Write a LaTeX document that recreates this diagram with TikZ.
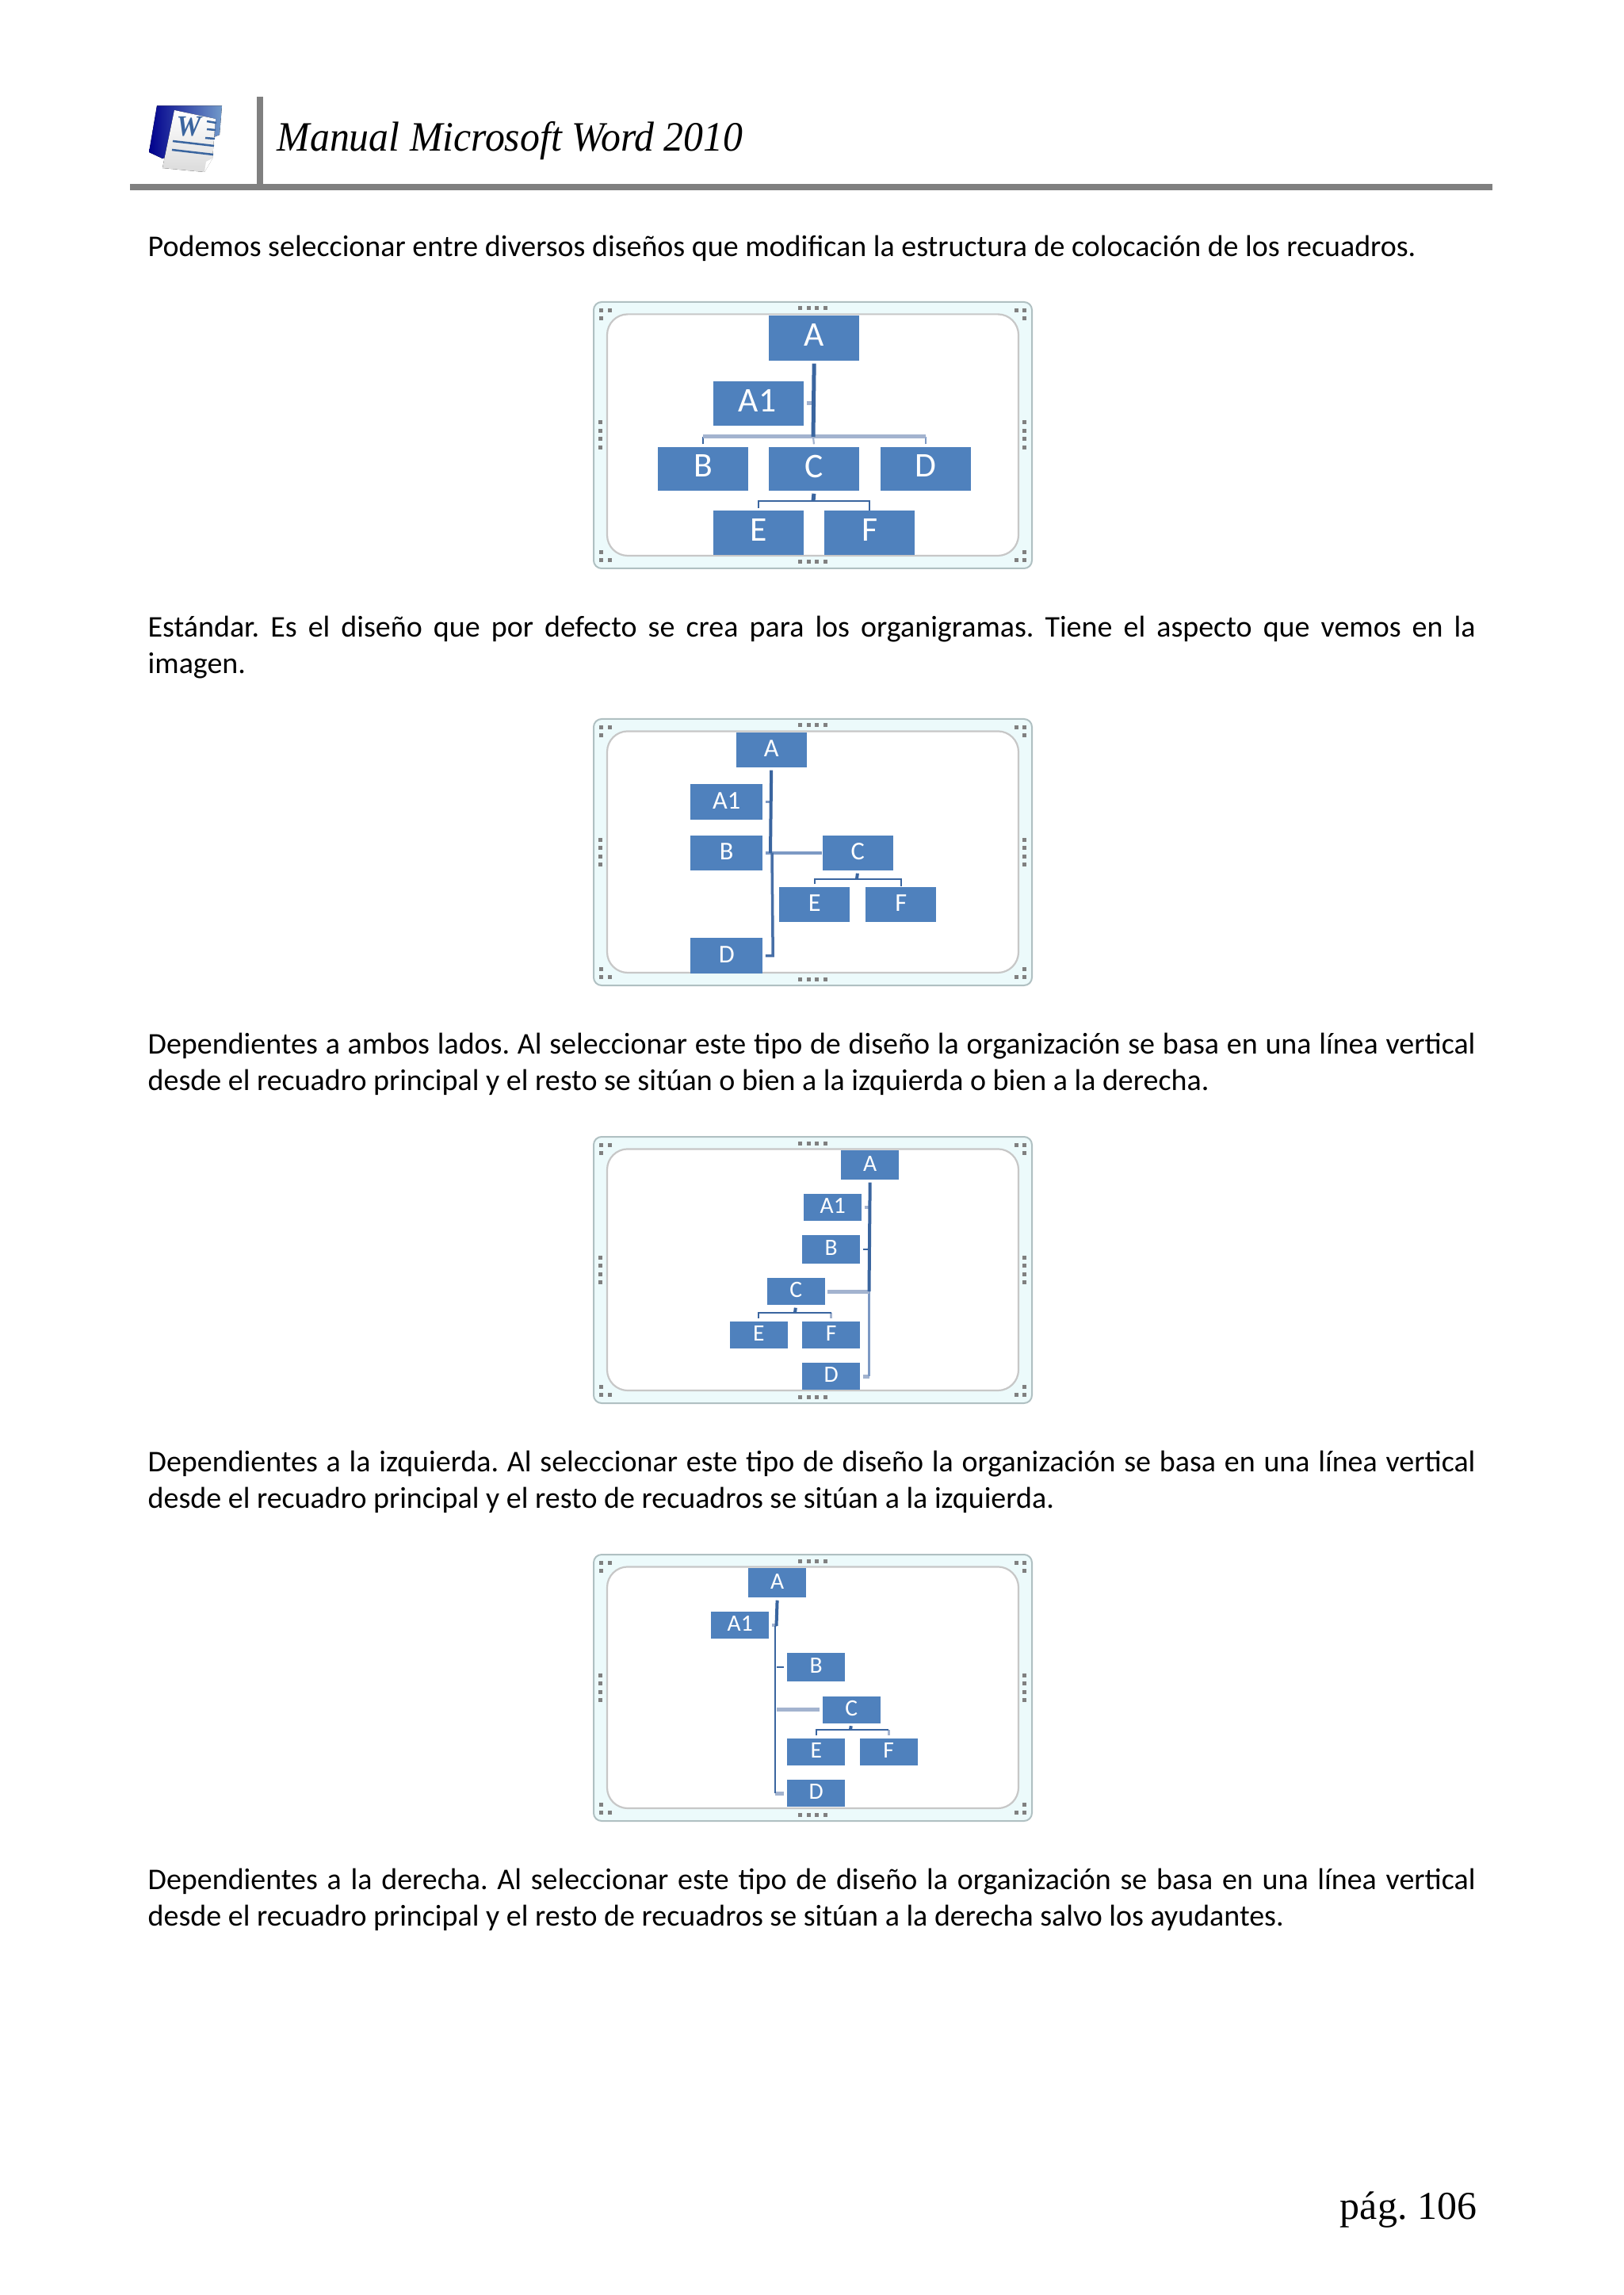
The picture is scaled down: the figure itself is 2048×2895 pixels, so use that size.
\documentclass[tikz,border=0pt]{standalone}
\usepackage{fontspec}
\setmainfont{Carlito}
\newfontfamily\headfont[FakeStretch=.944]{Liberation Serif}
\newfontfamily\pagefont[WordSpace=.7]{Liberation Serif}
\usepackage{xcolor}
\definecolor{OrgBlue}{HTML}{4F81BD}
\definecolor{OrgDark}{HTML}{3A659F}
\definecolor{OrgMid}{HTML}{7D99C4}
\definecolor{OrgPale}{HTML}{A3B3CF}
\definecolor{FrameBand}{HTML}{ECFAFB}
\definecolor{FrameEdge}{HTML}{B0C0C2}
\definecolor{HeadGray}{HTML}{808080}
\usetikzlibrary{positioning,calc}
\newcommand{\orgframe}[1]{%
  \begin{scope}[shift={(749,#1)}]
    \draw[FrameEdge,line width=.2mm,fill=FrameBand,rounded corners=1mm] (0,0) rectangle (553,336);
    \draw[black!22,line width=.22mm,fill=white,rounded corners=2.6mm] (17,15.4) rectangle (536,320);
    \foreach \x in {260.5,271,281,292} {
      \fill[dotc] (\x-2.5,5.5) rectangle ++(5,5);
      \fill[dotc] (\x-2.5,325.5) rectangle ++(5,5);
    }
    \foreach \y in {152,162.5,173,183.5} {
      \fill[dotc] (6,\y-2.5) rectangle ++(5,5);
      \fill[dotc] (541,\y-2.5) rectangle ++(5,5);
    }
    \foreach \x/\y in {9.5/10.7,20/10.7,9.5/20.8} {
      \fill[dotc] (\x-2.5,\y-2.5) rectangle ++(5,5);
      \fill[dotc] (553-\x-2.5,\y-2.5) rectangle ++(5,5);
      \fill[dotc] (\x-2.5,336-\y-2.5) rectangle ++(5,5);
      \fill[dotc] (553-\x-2.5,336-\y-2.5) rectangle ++(5,5);
    }
  \end{scope}}

\begin{document}
\begin{tikzpicture}[
  x=0.01cm,y=-0.01cm,
  dotc/.style={fill=black!50},
  para/.style={anchor=north west,inner sep=0pt,text width=16.74cm,align=justify,font=\fontsize{10.8}{13.1}\selectfont\frenchspacing},
  orgbox/.style={fill=OrgBlue,text=white,inner sep=0pt,text depth=1pt,xshift=.12mm},
  bigbox/.style={orgbox,text depth=2pt,minimum width=1.14cm,minimum height=.55cm,font=\fontsize{12.4}{12.4}\selectfont},
  midbox/.style={orgbox,minimum width=.89cm,minimum height=.44cm,font=\fontsize{9.2}{9.2}\selectfont},
  smallbox/.style={orgbox,minimum width=.73cm,minimum height=.34cm,font=\fontsize{8.4}{8.4}\selectfont},
  heavy/.style={OrgDark,line width=.5mm},
  trunk/.style={OrgDark,line width=.4mm},
  fine/.style={OrgDark,line width=.22mm},
  midl/.style={OrgMid,line width=.35mm},
  pale/.style={OrgPale,line width=.5mm},
  gapl/.style={shorten <=.3mm}
]
  \useasboundingbox (0,0) rectangle (2048,2895);
  % header
  \fill[HeadGray] (164,232) rectangle (1883,240);
  \fill[HeadGray] (324,122) rectangle (332,232);
  \node[anchor=base west,inner sep=0pt,font=\headfont\itshape\fontsize{15}{15}\selectfont] (title) at (349,191) {Manual Microsoft Word 2010};
  % word icon
  \fill[left color=blue!55!black,right color=OrgBlue!80!white] (198,133.5) -- (280,133.5) -- (277,170) -- (205,200) -- (188,192) -- cycle;
  \fill[top color=white,bottom color=black!14] (220,139) -- (272,150) -- (268,200) -- (258,217) -- (205,212) -- cycle;
  \fill[white] (268,200) -- (260,204) -- (258,217) -- cycle;
  \node[inner sep=0pt,text=OrgDark,font=\headfont\bfseries\itshape\fontsize{10.5}{10.5}\selectfont] (iconW) at (238,160) {W};
  \foreach \xa/\ya/\xb/\yb in {261/153/273/155,261/163/272/164,259/174/271/175,218/178/270/184,217/189/269/195}
    \draw[OrgDark,line width=.25mm] (\xa,\ya) -- (\xb,\yb);

  % texts
  \node[para] (txtA) at (186,296) {Podemos seleccionar entre diversos diseños que modifican la estructura de colocación de los recuadros.};
  \node[para] (txtB) at (186,776) {Estándar. Es el diseño que por defecto se crea para los organigramas. Tiene el aspecto que vemos en la\linebreak imagen.};
  \node[para] (txtC) at (186,1302) {Dependientes a ambos lados. Al seleccionar este tipo de diseño la organización se basa en una línea vertical desde el recuadro principal y el resto se sitúan o bien a la izquierda o bien a la derecha.};
  \node[para] (txtD) at (186,1829) {Dependientes a la izquierda. Al seleccionar este tipo de diseño la organización se basa en una línea vertical desde el recuadro principal y el resto de recuadros se sitúan a la izquierda.};
  \node[para] (txtE) at (186,2356) {Dependientes a la derecha. Al seleccionar este tipo de diseño la organización se basa en una línea vertical desde el recuadro principal y el resto de recuadros se sitúan a la derecha salvo los ayudantes.};
  \node[anchor=base east,inner sep=0pt,font=\pagefont\fontsize{14.2}{14.2}\selectfont] (page) at (1864,2799) {pág. 106};

  % standard layout
  \orgframe{381}
  \node[bigbox,minimum height=.57cm] (stdA) at (1026,426.5) {A};
  \node[bigbox] (stdAone) at (956,509) {\hspace{-1pt}A1\hspace{1pt}};
  \node[bigbox] (stdB) at (886,591.5) {B};
  \node[bigbox] (stdC) at (1026,591.5) {C};
  \node[bigbox] (stdD) at (1167,591.5) {D};
  \node[bigbox] (stdE) at (956,672) {E};
  \node[bigbox] (stdF) at (1096,672) {F};
  \coordinate (stdJ) at (1026,551);
  \coordinate (stdK) at (1026,632);
  \draw[pale,gapl] (stdAone.east) -- (stdAone.east -| stdA);
  \draw[fine,gapl] (stdB.north) -- (stdB.north |- stdJ);
  \draw[OrgPale,line width=.22mm,gapl] (stdC.north) -- (stdJ);
  \draw[midl,line width=.22mm,gapl] (stdD.north) -- (stdD.north |- stdJ);
  \draw[pale] (stdJ -| stdB) -- (stdJ -| stdD);
  \draw[heavy,gapl] (stdA.south) -- (stdJ);
  \draw[fine,gapl] (stdE.north) -- (stdE.north |- stdK) -- (stdF.north |- stdK) -- (stdF.north);
  \draw[heavy,gapl] (stdC.south) -- (stdK);

  % both sides layout
  \orgframe{907}
  \node[midbox] (ambA) at (972,946) {A};
  \node[midbox,minimum width=.91cm] (ambAone) at (915.5,1011.5) {A1};
  \node[midbox,minimum width=.91cm] (ambB) at (915.5,1076) {B};
  \node[midbox] (ambC) at (1081,1076) {C};
  \node[midbox] (ambE) at (1026.5,1141) {E};
  \node[midbox] (ambF) at (1135.5,1141) {F};
  \node[midbox,minimum width=.91cm] (ambD) at (915.5,1205.5) {D};
  \coordinate (ambJ) at (972,1076);
  \coordinate (ambK) at (1081,1109);
  \draw[midl,gapl] (ambB.east) -- (ambC.west);
  \draw[midl,gapl] (ambAone.east) -- (ambAone.east -| ambA);
  \draw[trunk,gapl] (ambA.south) -- (ambJ);
  \draw[midl,gapl,OrgDark!80!OrgMid] (ambD.east) -- ($(ambD.east -| ambA)+(2,0)$) -- ($(ambJ)+(2,0)$);
  \draw[fine,gapl] (ambE.north) -- (ambE.north |- ambK) -- (ambF.north |- ambK) -- (ambF.north);
  \draw[trunk,gapl] (ambC.south) -- (ambK);

  % left layout
  \orgframe{1434}
  \node[smallbox,minimum height=.37cm] (izqA) at (1096.5,1469.5) {A};
  \node[smallbox] (izqAone) at (1049.5,1523) {A1};
  \node[smallbox,minimum height=.36cm] (izqB) at (1047.5,1576) {B};
  \node[smallbox] (izqC) at (1003,1629) {C};
  \node[smallbox] (izqE) at (956,1683.5) {E};
  \node[smallbox] (izqF) at (1047.5,1683.5) {F};
  \node[smallbox] (izqD) at (1047.5,1736) {D};
  \coordinate (izqJ) at (1096.5,1629);
  \coordinate (izqK) at (1003,1656);
  \draw[pale,gapl] (izqD.east) -- (izqD.east -| izqJ);
  \draw[midl] (izqD.east -| izqJ) -- (izqJ);
  \draw[pale,gapl] (izqC.east) -- (izqJ);
  \draw[pale,line width=.4mm,gapl] (izqAone.east) -- (izqAone.east -| izqJ);
  \draw[fine,gapl] (izqB.east) -- (izqB.east -| izqJ);
  \draw[trunk,gapl] (izqA.south) -- (izqJ);
  \draw[OrgPale,line width=.3mm,gapl] (izqF.north) -- (izqF.north |- izqK);
  \draw[fine,gapl] (izqE.north) -- (izqE.north |- izqK) -- (izqF.north |- izqK);
  \draw[trunk,gapl] (izqC.south) -- (izqK);

  % right layout
  \orgframe{1961}
  \node[smallbox,minimum height=.37cm] (derA) at (979.5,1996.5) {A};
  \node[smallbox] (derAone) at (932.5,2050) {A1};
  \node[smallbox,minimum height=.36cm] (derB) at (1028.5,2103) {B};
  \node[smallbox] (derC) at (1073,2156.5) {C};
  \node[smallbox] (derE) at (1028.5,2210) {E};
  \node[smallbox] (derF) at (1120,2210) {F};
  \node[smallbox] (derD) at (1028.5,2262) {D};
  \coordinate (derJ) at (979.5,2051);
  \coordinate (derK) at (1073,2182);
  \draw[pale,line width=.4mm,gapl] (derAone.east) -- (derAone.east -| derJ);
  \draw[pale,gapl] (derC.west) -- (derC.west -| derJ);
  \draw[pale,gapl] (derD.west) -- ($(derD.west -| derJ)+(-2,0)$);
  \draw[fine,gapl] (derB.west) -- (derB.west -| derJ);
  \draw[OrgDark,line width=.28mm] ($(derD.west -| derJ)+(-1.5,0)$) -- ($(derJ)+(-1.5,0)$);
  \draw[trunk,gapl] (derA.south) -- (derJ);
  \draw[OrgPale,line width=.3mm,gapl] (derF.north) -- (derF.north |- derK);
  \draw[fine,gapl] (derE.north) -- (derE.north |- derK) -- (derF.north |- derK);
  \draw[trunk,gapl] (derC.south) -- (derK);
\end{tikzpicture}
\end{document}
